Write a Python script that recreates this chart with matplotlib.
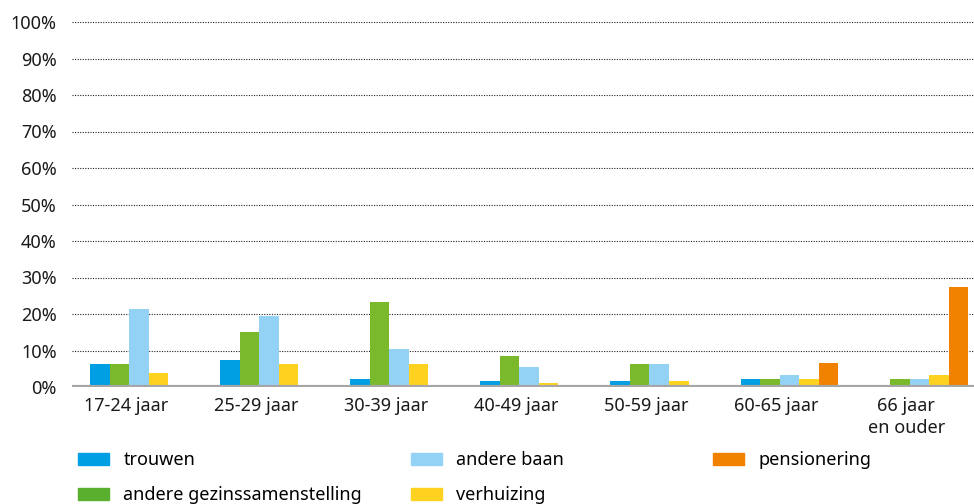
import matplotlib.pyplot as plt
import numpy as np
from matplotlib.ticker import FuncFormatter
from matplotlib.patches import Patch

plt.rcParams['font.family'] = ['Noto Sans', 'DejaVu Sans']

groepen = ["17-24 jaar", "25-29 jaar", "30-39 jaar", "40-49 jaar",
           "50-59 jaar", "60-65 jaar", "66 jaar\nen ouder"]
trouwen = [6.2, 7.3, 2.2, 1.6, 1.6, 2.2, 0.2]
gezin = [6.2, 15.1, 23.2, 8.4, 6.2, 2.2, 2.2]
baan = [21.4, 19.5, 10.3, 5.4, 6.2, 3.2, 2.2]
verhuizing = [3.8, 6.2, 6.2, 1.1, 1.6, 2.2, 3.2]
pensioen = [0.3, 0.3, 0.3, 0.3, 0.3, 6.5, 27.3]

series = [("trouwen", trouwen, "#009fe3"),
          ("andere gezinssamenstelling", gezin, "#7ab92c"),
          ("andere baan", baan, "#93d2f5"),
          ("verhuizing", verhuizing, "#ffd21f"),
          ("pensionering", pensioen, "#f08200")]
# legenda-kleuren wijken iets af in het origineel
legkleur = {"andere gezinssamenstelling": "#5aaf2e"}

fs = 13

fig = plt.figure(figsize=(9.74, 5.04), dpi=100)
ax = fig.add_axes([72/974, 1-387/504, 1-72/974, (387-22)/504])

x = np.arange(len(groepen))
w = 0.15
for k, (naam, vals, kleur) in enumerate(series):
    ax.bar(x + (k-2)*w, vals, w, color=kleur, label=naam, zorder=3)

ax.set_xlim(-0.515, 6.42)
ax.set_ylim(0, 100)
ax.set_yticks(np.arange(0, 101, 10))
ax.yaxis.set_major_formatter(FuncFormatter(lambda v, p: f"{int(v)}%"))
for v in range(10, 101, 10):
    ax.axhline(v, color="#222222", lw=0.8, ls=(0, (1, 1.3)), zorder=1, clip_on=False)
ax.axhline(0, color="#a6a6a6", lw=3, zorder=4)

ax.set_xticks(x - 0.1)
ax.set_xticklabels(groepen, fontsize=fs, color="#1a1a1a", linespacing=1.3)
ax.tick_params(axis="both", length=0, labelsize=fs, colors="#1a1a1a")
ax.tick_params(axis="x", pad=7)
ax.tick_params(axis="y", pad=11)
for s in ax.spines.values():
    s.set_visible(False)

kleuren = {naam: legkleur.get(naam, kleur) for naam, _, kleur in series}

# legenda in drie losse kolommen
kolommen = [(["trouwen", "andere gezinssamenstelling"], 78),
            (["andere baan", "verhuizing"], 411),
            (["pensionering"], 713)]
for namen, xp in kolommen:
    fig.legend([Patch(color=kleuren[n]) for n in namen], namen, loc="upper left",
               bbox_to_anchor=(xp/974, 1-451/504), frameon=False,
               fontsize=fs, handlelength=31/(fs*100/72), handleheight=12/(fs*100/72),
               handletextpad=0.8, labelspacing=0.95, borderpad=0,
               borderaxespad=0)

fig.savefig("out.png", dpi=100)
